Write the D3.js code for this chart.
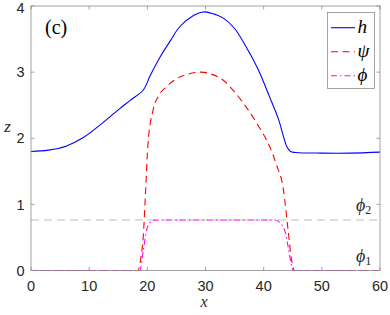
<!DOCTYPE html>
<html><head><meta charset="utf-8">
<script src="https://cdn.jsdelivr.net/npm/d3@7"></script>
<style>body{margin:0;background:#fff}svg{display:block}</style>
</head><body>
<svg id="c" width="390" height="315"></svg>
<script>
const hX   = [0,3,6,9,12,15,17,19.3,20.5,22.2,24,25.6,28,29.6,31,33,35,37,39,41,42.5,44,44.6,45.5,50,55,60];
const hY   = [1.80,1.82,1.88,2.01,2.21,2.43,2.57,2.73,2.95,3.23,3.48,3.69,3.86,3.91,3.89,3.82,3.66,3.38,3.05,2.63,2.30,1.87,1.80,1.785,1.775,1.775,1.79];
const psiX = [0,18.4,18.9,19.3,19.7,20.1,21,22,23.3,25,27,29.2,31,33,35,37,39,41,42.2,43.4,44.2,44.8,45.3,60];
const psiY = [0,0,0.2,0.51,1.2,1.9,2.43,2.65,2.78,2.90,2.97,3.0,2.97,2.88,2.70,2.47,2.20,1.88,1.60,1.22,0.61,0.16,0,0];
const phiX = [0,18.7,19.3,19.9,20.4,21,22,30,42,42.6,43.2,43.7,44.2,44.6,45.1,60];
const phiY = [0,0,0.3,0.62,0.72,0.76,0.764,0.764,0.764,0.74,0.68,0.58,0.36,0.16,0,0];
const phi1 = 0, phi2 = 0.764;
const xTicks = [0,10,20,30,40,50,60];
const yTicks = [0,1,2,3,4];

const svg = d3.select("#c");
const L=31, R=380, T=6, B=270.5;
const x = d3.scaleLinear().domain([0,60]).range([L,R]);
const y = d3.scaleLinear().domain([0,4]).range([B,T]);
const axCol="#262626";
const sans = "'Liberation Sans', Arial, Helvetica, sans-serif";
const serif = "'Liberation Serif', 'DejaVu Serif', 'Times New Roman', serif";

svg.append("clipPath").attr("id","clip").append("rect").attr("x",L).attr("y",T-1).attr("width",R-L).attr("height",B-T+2);
const g = svg.append("g").attr("clip-path","url(#clip)");

g.append("line").attr("x1",L).attr("x2",R).attr("y1",y(phi2)).attr("y2",y(phi2))
 .attr("stroke","#bdbdbd").attr("stroke-width",1).attr("stroke-dasharray","8,5");

const mk = c => d3.line().x(d=>x(d[0])).y(d=>y(d[1])).curve(c);
const series = [
  {xs:hX, ys:hY, c:"#0000ff", dash:null, curve:d3.curveCatmullRom.alpha(0.5)},
  {xs:psiX, ys:psiY, c:"#ff0000", dash:"7,4.5", curve:d3.curveMonotoneX},
  {xs:phiX, ys:phiY, c:"#ff00ff", dash:"6,3,1.5,3", curve:d3.curveMonotoneX}
];
series.forEach(s=>{
  g.append("path").attr("d", mk(s.curve)(s.xs.map((v,i)=>[v,s.ys[i]])))
   .attr("fill","none").attr("stroke",s.c).attr("stroke-width",1.1)
   .attr("stroke-dasharray",s.dash);
});

svg.append("rect").attr("x",L).attr("y",T).attr("width",R-L).attr("height",B-T)
 .attr("fill","none").attr("stroke","#8c8c8c").attr("stroke-width",0.8);

const tl=3.5;
xTicks.forEach(t=>{
  svg.append("line").attr("x1",x(t)).attr("x2",x(t)).attr("y1",B).attr("y2",B-tl).attr("stroke","#8c8c8c").attr("stroke-width",0.8);
  svg.append("line").attr("x1",x(t)).attr("x2",x(t)).attr("y1",T).attr("y2",T+tl).attr("stroke","#8c8c8c").attr("stroke-width",0.8);
  svg.append("text").attr("x",x(t)).attr("y",290.5).attr("text-anchor","middle")
   .attr("font-family",sans).attr("font-size",14.5).attr("fill",axCol).text(t);
});
yTicks.forEach(t=>{
  svg.append("line").attr("x1",L).attr("x2",L+tl).attr("y1",y(t)).attr("y2",y(t)).attr("stroke","#8c8c8c").attr("stroke-width",0.8);
  svg.append("line").attr("x1",R).attr("x2",R-tl).attr("y1",y(t)).attr("y2",y(t)).attr("stroke","#8c8c8c").attr("stroke-width",0.8);
  svg.append("text").attr("x",24.5).attr("y",Math.max(y(t)+5.2,12.5)).attr("text-anchor","end")
   .attr("font-family",sans).attr("font-size",14.5).attr("fill",axCol).text(t);
});

svg.append("text").attr("x",204).attr("y",306.5).attr("text-anchor","middle")
 .attr("font-family",serif).attr("font-style","italic").attr("font-size",16).attr("fill",axCol).text("x");
svg.append("text").attr("x",7.5).attr("y",132).attr("text-anchor","middle")
 .attr("font-family",serif).attr("font-style","italic").attr("font-size",17).attr("fill",axCol).text("z");

svg.append("text").attr("x",45).attr("y",34).attr("font-family",serif).attr("font-size",20).attr("fill","#000").text("(c)");

function phiLab(sub, yy){
  const t = svg.append("text").attr("x",356).attr("y",yy).attr("font-family",serif).attr("font-size",18).attr("fill",axCol);
  t.append("tspan").attr("font-style","italic").text("\u03D5");
  t.append("tspan").attr("font-size",12).attr("dy",3).text(sub);
}
phiLab("2", y(phi2)-9);
phiLab("1", y(phi1)-9);

const lg = svg.append("g");
lg.append("rect").attr("x",327.5).attr("y",12.5).attr("width",47).attr("height",76)
 .attr("fill","#fff").attr("stroke","#8c8c8c").attr("stroke-width",0.8);
const labels = ["h","\u03C8","\u03D5"];
series.forEach((s,i)=>{
  const yy = 27.7 + i*24;
  lg.append("line").attr("x1",331).attr("x2",355).attr("y1",yy).attr("y2",yy)
   .attr("stroke",s.c).attr("stroke-width",1.1).attr("stroke-dasharray",s.dash);
  lg.append("text").attr("x",357.5).attr("y",yy+5).attr("font-family",serif).attr("font-style","italic")
   .attr("font-size",19).attr("fill","#000").text(labels[i]);
});
</script>
</body></html>
